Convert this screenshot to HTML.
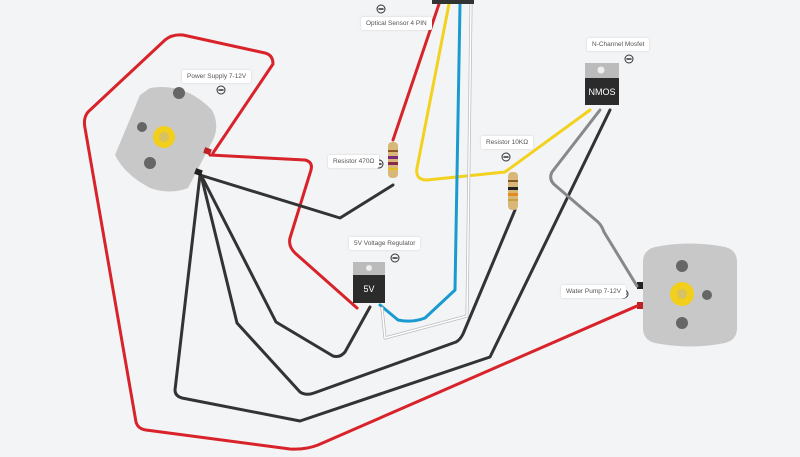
<!DOCTYPE html>
<html><head><style>
body{margin:0;background:#f3f4f6;width:800px;height:457px;overflow:hidden;font-family:"Liberation Sans",sans-serif}
.lbl{position:absolute;background:#fff;font-size:6.5px;color:#555;padding:3px 5px;border-radius:2px;box-shadow:0 0 2px rgba(0,0,0,.15);white-space:nowrap}
</style></head><body>
<svg width="800" height="457" style="position:absolute;left:0;top:0" fill="none" stroke-linejoin="round" stroke-linecap="round">
<!-- PSU body -->
<path d="M150,88 Q185,82 212,110 Q220,125 213,140 L188,188 Q170,195 150,188 Q125,175 115,155 L140,95 Z" fill="#c8c8c8"/>
<circle cx="179" cy="93" r="6" fill="#666"/><circle cx="142" cy="127" r="5" fill="#666"/><circle cx="150" cy="163" r="6" fill="#666"/>
<circle cx="164" cy="137" r="11" fill="#f1cf1a"/><circle cx="164" cy="137" r="5" fill="#d7c160"/>
<!-- pump body -->
<path d="M643,262 Q643,250 655,247 Q690,240 725,247 Q737,250 737,262 L737,328 Q737,340 725,343 Q690,350 655,343 Q643,340 643,328 Z" fill="#c8c8c8"/>
<circle cx="682" cy="266" r="6" fill="#666"/><circle cx="707" cy="295" r="5" fill="#666"/><circle cx="682" cy="323" r="6" fill="#666"/>
<circle cx="682" cy="294" r="12" fill="#f1cf1a"/><circle cx="682" cy="294" r="5" fill="#d7c160"/>
<rect x="637" y="282" width="6" height="7" fill="#222"/><rect x="637" y="302" width="6" height="7" fill="#b22"/>
<!-- wires -->
<g stroke-width="3">
<path d="M213,153 L273,64 Q273,55 265,53 L183,35 Q172,34 165,40 L88,112 Q83,118 85,128 L136,422 Q138,429 146,430 L290,449 Q305,450 318,445 L637,306" stroke="#d8232a"/>
<path d="M210,155 L305,160 Q313,162 311,170 L290,238 Q288,246 295,253 L357,308" stroke="#d8232a"/>
<path d="M439,4 L393,140" stroke="#d8232a"/>
<path d="M449,4 L417,168 Q415,180 427,180 L505,172 L590,110" stroke="#f2d21e"/>
<path d="M460,4 L455,290 L425,318 Q412,323 398,320 L380,305" stroke="#1a9bd0"/>
<path d="M200,175 L340,218 L393,185" stroke="#333"/>
<path d="M201,175 L276,322 L333,356 Q340,358 345,352 L370,307" stroke="#333"/>
<path d="M201,175 L237,323 L300,392 Q306,396 314,393 L456,342 Q460,340 463,334 L515,210" stroke="#333"/>
<path d="M200,175 L175,390 Q175,396 182,398 L300,421 L490,357 L610,110" stroke="#333"/>
<path d="M600,110 L552,172 Q548,180 556,186 L598,222 Q602,226 604,232 L637,286" stroke="#888"/>
</g>
<path d="M471,4 L467,316 L385,338 L382,308" stroke="#bbb" stroke-width="3"/>
<path d="M471,4 L467,316 L385,338 L382,308" stroke="#fff" stroke-width="1.5"/>
<!-- terminals PSU -->
<rect x="204" y="148" width="7" height="6" fill="#b22" transform="rotate(20 207 151)"/>
<rect x="195" y="169" width="7" height="6" fill="#222" transform="rotate(20 198 172)"/>
<!-- sensor -->
<rect x="432" y="0" width="42" height="4" fill="#333"/>
<!-- resistors -->
<rect x="388" y="142" width="10" height="36" rx="4" fill="#d8b878"/>
<rect x="388" y="150" width="10" height="2" fill="#8a5a2a"/><rect x="388" y="156" width="10" height="3" fill="#7a2a7a"/><rect x="388" y="162" width="10" height="3" fill="#8a2a4a"/><rect x="388" y="168" width="10" height="2" fill="#e6c020"/>
<rect x="508" y="172" width="10" height="38" rx="4" fill="#d8b878"/>
<rect x="508" y="180" width="10" height="2" fill="#8a5a2a"/><rect x="508" y="187" width="10" height="3" fill="#222"/><rect x="508" y="193" width="10" height="3" fill="#e68a20"/><rect x="508" y="199" width="10" height="2" fill="#c9a040"/>
<!-- regulator -->
<rect x="353" y="262" width="32" height="13" fill="#bbb"/><circle cx="369" cy="268" r="3" fill="#eee"/>
<rect x="353" y="275" width="32" height="28" fill="#2b2b2b"/>
<text x="369" y="292" fill="#fff" font-size="9" font-family="Liberation Sans" text-anchor="middle" stroke="none">5V</text>
<!-- nmos -->
<rect x="585" y="63" width="34" height="15" fill="#bbb"/><circle cx="601" cy="70" r="3.5" fill="#eee"/>
<rect x="585" y="78" width="34" height="27" fill="#2b2b2b"/>
<text x="602" y="95" fill="#fff" font-size="9" font-family="Liberation Sans" text-anchor="middle" stroke="none">NMOS</text>
<!-- minus icons -->
<g stroke="#333" stroke-width="1">
<circle cx="381" cy="9" r="4"/><circle cx="221" cy="90" r="4"/><circle cx="379" cy="164" r="4"/><circle cx="506" cy="157" r="4"/><circle cx="395" cy="258" r="4"/><circle cx="629" cy="59" r="4"/><circle cx="624" cy="294" r="4"/>
</g>
<g stroke="#333" stroke-width="1.5">
<path d="M379,9h4M219,90h4M377,164h4M504,157h4M393,258h4M627,59h4M622,294h4"/>
</g>
</svg>
<div class="lbl" style="left:361px;top:17px">Optical Sensor 4 PIN</div>
<div class="lbl" style="left:182px;top:70px">Power Supply 7-12V</div>
<div class="lbl" style="left:587px;top:38px">N-Channel Mosfet</div>
<div class="lbl" style="left:328px;top:155px">Resistor 470Ω</div>
<div class="lbl" style="left:481px;top:136px">Resistor 10KΩ</div>
<div class="lbl" style="left:349px;top:237px">5V Voltage Regulator</div>
<div class="lbl" style="left:561px;top:285px">Water Pump 7-12V</div>
</body></html>
